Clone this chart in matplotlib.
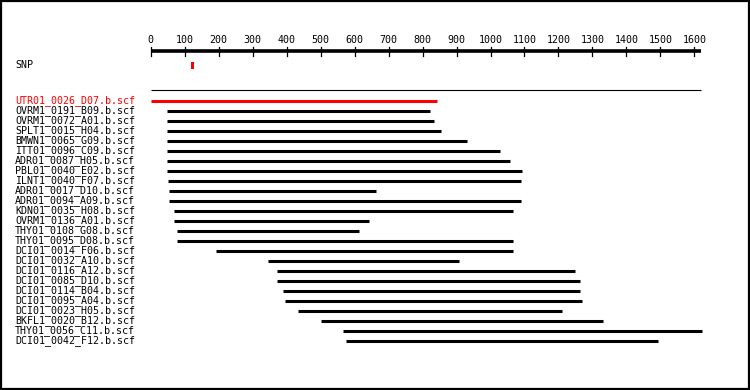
import matplotlib
matplotlib.use("Agg")
import matplotlib.pyplot as plt
from matplotlib.patches import Rectangle
import matplotlib.transforms as mtransforms

# ---- data ----
reads = ["UTR01_0026_D07.b.scf", "OVRM1_0191_B09.b.scf", "OVRM1_0072_A01.b.scf",
         "SPLT1_0015_H04.b.scf", "BMWN1_0065_G09.b.scf", "ITT01_0096_C09.b.scf",
         "ADR01_0087_H05.b.scf", "PBL01_0040_E02.b.scf", "ILNT1_0040_F07.b.scf",
         "ADR01_0017_D10.b.scf", "ADR01_0094_A09.b.scf", "KDN01_0035_H08.b.scf",
         "OVRM1_0136_A01.b.scf", "THY01_0108_G08.b.scf", "THY01_0095_D08.b.scf",
         "DCI01_0014_F06.b.scf", "DCI01_0032_A10.b.scf", "DCI01_0116_A12.b.scf",
         "DCI01_0085_D10.b.scf", "DCI01_0114_B04.b.scf", "DCI01_0095_A04.b.scf",
         "DCI01_0023_H05.b.scf", "BKFL1_0020_B12.b.scf", "THY01_0056_C11.b.scf",
         "DCI01_0042_F12.b.scf"]
starts = [0, 48, 48, 48, 48, 48, 48, 48, 52, 54, 54, 69, 69, 78, 78,
          193, 346, 372, 372, 390, 396, 434, 501, 567, 576]
ends = [843, 823, 835, 855, 932, 1027, 1056, 1094, 1091, 664, 1091, 1065, 643, 614, 1065,
        1065, 908, 1248, 1264, 1264, 1268, 1211, 1330, 1622, 1494]
highlight = [True] + [False] * 24
snp_positions = [123]
ruler_ticks = list(range(0, 1601, 100))
ruler_end = 1620

# ---- figure ----
W, H = 750, 390
fig = plt.figure(figsize=(W / 100, H / 100), dpi=100)
ax = fig.add_axes([0, 0, 1, 1])
ax.axis("off")

px_per_unit = 0.3398
x0_px = 150.7
ax.set_xlim(-x0_px / px_per_unit, (W - x0_px) / px_per_unit)
row0_px, row_step = 100.7, 10.0
ax.set_ylim((H - row0_px) / row_step, -row0_px / row_step)

def ypx(p):
    return (p - row0_px) / row_step

font = dict(family="DejaVu Sans Mono", fontsize=7.2)
lbl_tr = mtransforms.blended_transform_factory(fig.transFigure, ax.transData)

# ruler
ax.plot([0, ruler_end], [ypx(51.3)] * 2, color="black", lw=2.6, solid_capstyle="butt")
for t in ruler_ticks:
    ax.plot([t, t], [ypx(47.5), ypx(55.7)], color="black", lw=0.9)
    ax.text(t, ypx(40), str(t), ha="center", va="center", color="black", **font)

# SNP track
ax.text(15 / W, ypx(65.5), "SNP", ha="left", va="center", transform=lbl_tr, color="black", **font)
for s in snp_positions:
    ax.add_patch(Rectangle((s - 1.5 / px_per_unit / 1, ypx(61.7)), 3 / px_per_unit, ypx(68.7) - ypx(61.7),
                           facecolor="red", edgecolor="none"))

# separator line
ax.plot([0, ruler_end], [ypx(90.3)] * 2, color="black", lw=0.8, solid_capstyle="butt")

# reads
for i, (name, s, e, hl) in enumerate(zip(reads, starts, ends, highlight)):
    c = "red" if hl else "black"
    ax.plot([s, e], [i, i], color=c, lw=2.2, solid_capstyle="butt")
    ax.text(15 / W, i, name, ha="left", va="center", transform=lbl_tr, color=c, **font)

# border
fig.patches.append(Rectangle((1 / W, 1 / H), (W - 2) / W, (H - 2) / H, transform=fig.transFigure,
                             fill=False, edgecolor="black", lw=1.6))

fig.savefig("out.png", dpi=100, facecolor="white")
